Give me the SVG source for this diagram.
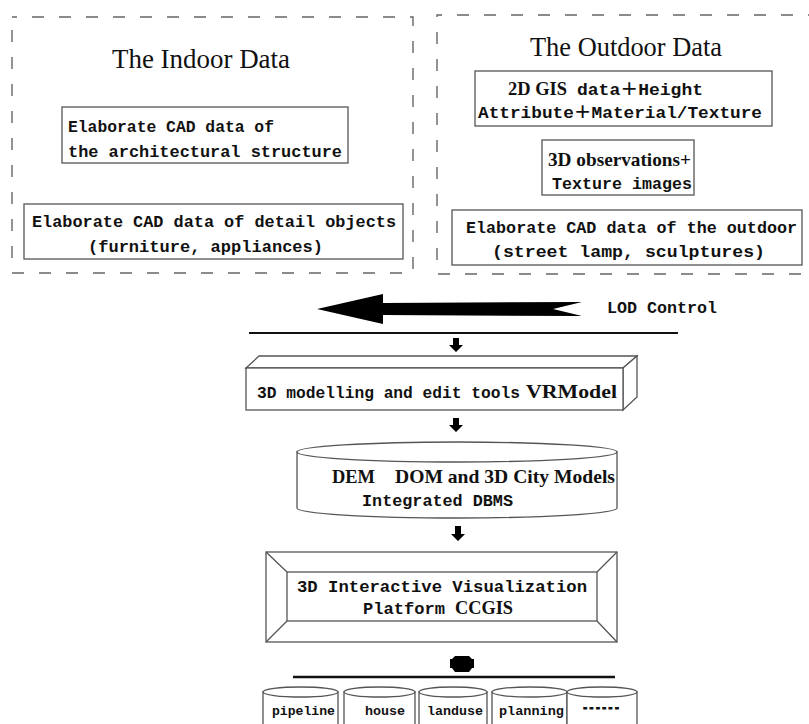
<svg xmlns="http://www.w3.org/2000/svg" width="809" height="724" viewBox="0 0 809 724">
<style>
.mono{font-family:"Liberation Mono","DejaVu Sans Mono","Noto Sans CJK SC",monospace;font-weight:bold;font-size:17px;fill:#111}
.sb{font-family:"Liberation Serif","Times New Roman",serif;font-weight:bold;font-size:19px;fill:#111}
.title{font-family:"Liberation Serif","Times New Roman",serif;font-size:27px;fill:#111;text-anchor:middle}
.box{fill:#fff;stroke:#555;stroke-width:1.3}
.dash{fill:none;stroke:#666;stroke-width:1.4;stroke-dasharray:12 15;stroke-dashoffset:7}
.blk{fill:#000}
.small{font-family:"Liberation Mono","DejaVu Sans Mono",monospace;font-weight:bold;font-size:13.5px;fill:#111}
</style>
<rect width="809" height="724" fill="#fff"/>

<g id="indoor">
<rect class="dash" x="12" y="17" width="401" height="256"/>
<text class="title" x="201" y="68" textLength="178" lengthAdjust="spacingAndGlyphs">The Indoor Data</text>
</g>
<g id="indoor-cad-structure">
<rect class="box" x="62" y="107" width="286" height="56"/>
<text class="mono" x="68" y="132" textLength="206" lengthAdjust="spacingAndGlyphs">Elaborate CAD data of</text>
<text class="mono" x="68" y="157" textLength="274" lengthAdjust="spacingAndGlyphs">the architectural structure</text>
</g>
<g id="indoor-cad-detail">
<rect class="box" x="24" y="204" width="379" height="55"/>
<text class="mono" x="32" y="227" textLength="364" lengthAdjust="spacingAndGlyphs">Elaborate CAD data of detail objects</text>
<text class="mono" x="88" y="252" textLength="235" lengthAdjust="spacingAndGlyphs">(furniture, appliances)</text>
</g>

<g id="outdoor">
<rect class="dash" x="437" y="15" width="400" height="259"/>
<text class="title" x="626" y="56" textLength="192" lengthAdjust="spacingAndGlyphs">The Outdoor Data</text>
</g>
<g id="outdoor-gis">
<rect class="box" x="475" y="71" width="297" height="55"/>
<text class="sb" x="508" y="95" textLength="59" lengthAdjust="spacingAndGlyphs">2D GIS</text>
<text class="mono" x="577" y="95" textLength="126" lengthAdjust="spacingAndGlyphs">data＋Height</text>
<text class="mono" x="478" y="118" textLength="284" lengthAdjust="spacingAndGlyphs">Attribute＋Material/Texture</text>
</g>
<g id="outdoor-3d">
<rect class="box" x="542" y="140" width="152" height="55"/>
<text class="sb" x="548" y="166" textLength="143" lengthAdjust="spacingAndGlyphs">3D observations+</text>
<text class="mono" x="552" y="189" textLength="140" lengthAdjust="spacingAndGlyphs">Texture images</text>
</g>
<g id="outdoor-cad">
<rect class="box" x="452" y="210" width="350" height="55"/>
<text class="mono" x="466" y="233" textLength="331" lengthAdjust="spacingAndGlyphs">Elaborate CAD data of the outdoor</text>
<text class="mono" x="492" y="257" textLength="273" lengthAdjust="spacingAndGlyphs">(street lamp, sculptures)</text>
</g>

<g id="lod">
<polygon class="blk" points="317,309 383,294 383,303 582,302 553,309 582,316 383,315 383,324"/>
<text class="mono" x="607" y="313" textLength="110" lengthAdjust="spacingAndGlyphs">LOD Control</text>
</g>

<g id="vrmodel">
<polygon class="box" points="246,368 259,356 637,356 623,368"/>
<polygon class="box" points="623,368 637,356 637,397 623,410"/>
<rect class="box" x="246" y="368" width="377" height="42"/>
<text class="mono" x="257" y="398" textLength="263" lengthAdjust="spacingAndGlyphs">3D modelling and edit tools</text>
<text class="sb" x="526" y="398" textLength="91" lengthAdjust="spacingAndGlyphs">VRModel</text>
</g>

<g id="dbms">
<path class="box" d="M297,452 L297,508 A160,10 0 0 0 617,508 L617,452 Z"/>
<ellipse class="box" cx="457" cy="452" rx="160" ry="10"/>
<text class="sb" x="332" y="483" textLength="43" lengthAdjust="spacingAndGlyphs">DEM</text>
<text class="sb" x="395" y="483" textLength="220" lengthAdjust="spacingAndGlyphs">DOM and 3D City Models</text>
<text class="mono" x="362" y="506" textLength="151" lengthAdjust="spacingAndGlyphs">Integrated DBMS</text>
</g>

<g id="ccgis">
<rect class="box" x="266" y="552" width="351" height="90"/>
<rect class="box" x="287" y="572" width="310" height="49"/>
<path d="M266,552 L287,572 M617,552 L597,572 M266,642 L287,621 M617,642 L597,621" stroke="#555" stroke-width="1.3" fill="none"/>
<text class="mono" x="297" y="592" textLength="290" lengthAdjust="spacingAndGlyphs">3D Interactive Visualization</text>
<text class="mono" x="363" y="614" textLength="82" lengthAdjust="spacingAndGlyphs">Platform</text>
<text class="sb" x="455" y="614" textLength="58" lengthAdjust="spacingAndGlyphs">CCGIS</text>
</g>

<g id="db-pipeline">
<path class="box" d="M263,692 L263,730 L338,730 L338,692 Z"/>
<ellipse class="box" cx="300.5" cy="692" rx="37.5" ry="5"/>
<text class="small" x="272" y="715" textLength="63" lengthAdjust="spacingAndGlyphs">pipeline</text>
</g>
<g id="db-house">
<path class="box" d="M344,692 L344,730 L415,730 L415,692 Z"/>
<ellipse class="box" cx="379.5" cy="692" rx="35.5" ry="5"/>
<text class="small" x="365" y="715" textLength="40" lengthAdjust="spacingAndGlyphs">house</text>
</g>
<g id="db-landuse">
<path class="box" d="M419,692 L419,730 L487,730 L487,692 Z"/>
<ellipse class="box" cx="453" cy="692" rx="34" ry="5"/>
<text class="small" x="427" y="715" textLength="56" lengthAdjust="spacingAndGlyphs">landuse</text>
</g>
<g id="db-planning">
<path class="box" d="M492,692 L492,730 L567,730 L567,692 Z"/>
<ellipse class="box" cx="529.5" cy="692" rx="37.5" ry="5"/>
<text class="small" x="499" y="715" textLength="65" lengthAdjust="spacingAndGlyphs">planning</text>
</g>
<g id="db-more">
<path class="box" d="M567,692 L567,730 L637,730 L637,692 Z"/>
<ellipse class="box" cx="602" cy="692" rx="35" ry="5"/>
<text class="small" x="582" y="712" textLength="38" lengthAdjust="spacingAndGlyphs" font-size="14" stroke="#111" stroke-width="1.1">------</text>
</g>

<g id="connectors">
<line x1="249" y1="333" x2="678" y2="333" stroke="#111" stroke-width="2"/>
<polygon class="blk" points="453,338 459,338 459,345 463,345 456,352 449,345 453,345"/>
<polygon class="blk" points="453,418 459,418 459,425 463,425 456,432 449,425 453,425"/>
<polygon class="blk" points="455,526 461,526 461,534 465,534 458,541 451,534 455,534"/>
<polygon class="blk" points="455,656 469,656 472,659 474,659 474,668 472,668 469,672 455,672 452,668 450,668 450,659 452,659"/>
<line x1="293" y1="677" x2="615" y2="677" stroke="#111" stroke-width="2.5"/>
</g>
</svg>
